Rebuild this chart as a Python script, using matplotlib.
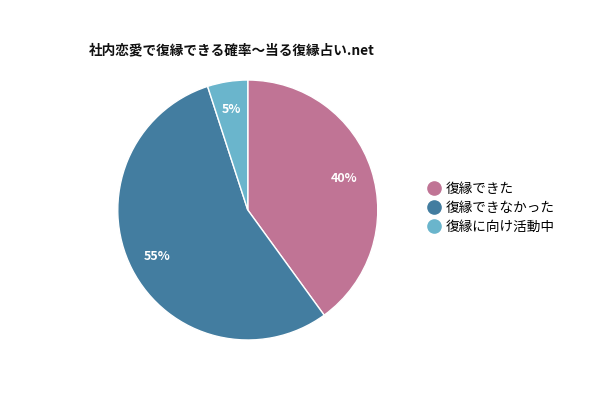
import matplotlib
matplotlib.use("Agg")
import matplotlib.pyplot as plt
from matplotlib.lines import Line2D

plt.rcParams['font.family'] = ['Noto Sans CJK JP', 'DejaVu Sans']

labels = ["復縁できた", "復縁できなかった", "復縁に向け活動中"]
values = [40, 55, 5]
colors = ["#c07495", "#437da0", "#6ab5cc"]
title = "社内恋愛で復縁できる確率～当る復縁占い.net"

fig = plt.figure(figsize=(6, 4), dpi=100)
ax = fig.add_axes([0.1963, 0.15, 0.4333, 0.65])
wedges, texts, autotexts = ax.pie(
    values, colors=colors, startangle=90, counterclock=False,
    autopct="%d%%", pctdistance=0.78,
    wedgeprops=dict(edgecolor="white", linewidth=1),
    textprops=dict(color="white", fontsize=9, fontweight="bold"))
ax.set_aspect("equal")
ax.set_xlim(-1, 1)
ax.set_ylim(-1, 1)

fig.text(0.148, 0.875, title, fontsize=9.8, fontweight="bold", color="#111111", va="center")

handles = [Line2D([], [], marker="o", linestyle="", markersize=9.5,
                  markerfacecolor=c, markeredgecolor=c) for c in colors]
fig.legend(handles, labels, loc="center left", bbox_to_anchor=(0.69, 0.48),
           frameon=False, fontsize=9.8, handletextpad=0.2, labelspacing=0.35,
           handlelength=1.2)

fig.savefig("out.png", dpi=100, facecolor="white")
